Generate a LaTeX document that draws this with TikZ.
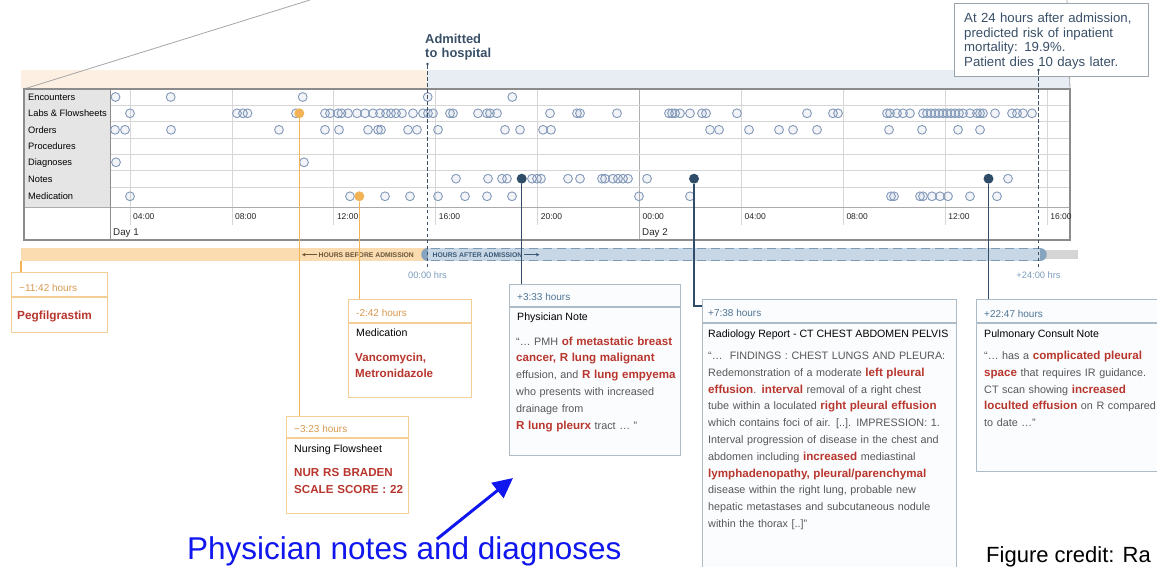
\documentclass[tikz,border=0pt]{standalone}
\usepackage{fontspec}
\setmainfont{Liberation Sans}
\usetikzlibrary{arrows.meta}

\definecolor{hlred}{HTML}{B8362E}
\definecolor{bodygray}{HTML}{585858}
\definecolor{darktxt}{HTML}{262626}
\definecolor{slate}{HTML}{3A5068}
\definecolor{notehdr}{HTML}{4F7596}
\definecolor{noteedge}{HTML}{AEBCC8}
\definecolor{notefill}{HTML}{FBFCFD}
\definecolor{orng}{HTML}{F2B356}
\definecolor{orngedge}{HTML}{F4CF95}
\definecolor{orngtxt}{HTML}{D7994F}
\definecolor{bandorng}{HTML}{FDF0E2}
\definecolor{bandblue}{HTML}{E8EDF3}
\definecolor{barorng}{HTML}{FADCB0}
\definecolor{barblue}{HTML}{C7D7E5}
\definecolor{bardash}{HTML}{7E9AB3}
\definecolor{barcap}{HTML}{87A4BF}
\definecolor{bargray}{HTML}{D5D5D5}
\definecolor{beforetxt}{HTML}{6A5538}
\definecolor{aftertxt}{HTML}{3D5A78}
\definecolor{evt}{HTML}{8298B9}
\definecolor{evtdark}{HTML}{2F4C68}
\definecolor{gridline}{HTML}{D6D6D6}
\definecolor{dayline}{HTML}{B0B0B0}
\definecolor{gridedge}{HTML}{8C8C8C}
\definecolor{labelbg}{HTML}{E5E5E5}
\definecolor{callblue}{HTML}{1016EE}
\definecolor{zerotxt}{HTML}{7C9CBE}
\definecolor{calloutedge}{HTML}{9AA4AD}

% highlighted keyword inside a note excerpt
\newcommand{\kw}[1]{{\fontsize{11.6}{14}\selectfont\bfseries\color{hlred}#1}}

\begin{document}
\begin{tikzpicture}[x=1pt,y=-1pt,
  evt/.style={circle,draw=evt,line width=0.9pt,fill=evt,fill opacity=0.10,minimum size=8.8pt,inner sep=0pt},
  evtkey/.style={circle,fill=evtdark,minimum size=10pt,inner sep=0pt},
  evtorng/.style={circle,fill=orng,minimum size=10pt,inner sep=0pt},
  rowlabel/.style={anchor=base west,inner sep=0pt,font=\fontsize{9.3}{11}\selectfont,text=black},
  hourlabel/.style={anchor=base west,inner sep=0pt,font=\fontsize{8.5}{10}\selectfont,text=darktxt},
  daylabel/.style={anchor=base west,inner sep=0pt,font=\fontsize{9.8}{12}\selectfont,text=darktxt},
  orngbox/.style={draw=orngedge,line width=1.2pt,fill=white,anchor=north west,inner sep=0pt},
  notebox/.style={draw=noteedge,line width=1.2pt,fill=notefill,anchor=north west,inner sep=0pt},
  stamp/.style={anchor=base west,inner sep=0pt,font=\fontsize{10}{12}\selectfont},
  orngstamp/.style={stamp,text=orngtxt},
  notestamp/.style={stamp,text=notehdr},
  boxtitle/.style={anchor=base west,inner sep=0pt,font=\fontsize{10.6}{13}\selectfont,text=black},
  notebody/.style={anchor=base west,inner sep=0pt,text width=300pt,align=left,font=\fontsize{10.8}{16.8}\selectfont,text=bodygray},
  keybody/.style={anchor=base west,inner sep=0pt,text width=200pt,align=left,font=\fontsize{11.6}{16.8}\selectfont\bfseries,text=hlred},
  orngline/.style={draw=orng,line width=1.6pt},
  noteline/.style={draw=evtdark,line width=1.4pt},
  admline/.style={draw=slate,line width=1pt,dash pattern=on 3.5pt off 2.5pt},
  zerolabel/.style={anchor=base,inner sep=0pt,font=\fontsize{9.3}{11}\selectfont,text=zerotxt},
]
\useasboundingbox (0,0) rectangle (1157,567);
\begin{scope}
\clip (0,0) rectangle (1157,567);

% ---------- top band and zoom lines ----------
\fill[bandorng] (21,70) rectangle (427,89);
\fill[bandblue] (427,70) rectangle (1070,89);
\draw[gray!70,line width=0.8pt] (24,89) -- (310,0);
\draw[gray!70,line width=0.8pt] (1067,0) -- (1070,89);

% ---------- event grid ----------
\fill[labelbg] (24,89) rectangle (110,207);
\foreach \x in {130,231.9,333.8,435.7,537.6,741.4,843.3,945.2,1047.1}
  \draw[gridline,line width=0.8pt] (\x,89) -- (\x,225);
\draw[dayline,line width=0.9pt] (639.5,89) -- (639.5,240);
\foreach \y in {105,121.7,138.3,154,170.3,187}
  \draw[gridline,line width=0.9pt] (110,\y) -- (1070,\y);
\draw[gridline!80!black,line width=0.9pt] (24,207) -- (1070,207);
\draw[gridedge,line width=0.9pt] (110,89) -- (110,240);
\draw[gridedge,line width=1.1pt] (24,89) rectangle (1070,240);

\node[rowlabel] (lEnc) at (28,100.5) {Encounters};
\node[rowlabel] (lLab) at (28,116.7) {Labs \& Flowsheets};
\node[rowlabel] (lOrd) at (28,133.2) {Orders};
\node[rowlabel] (lPro) at (28,149.2) {Procedures};
\node[rowlabel] (lDia) at (28,165.7) {Diagnoses};
\node[rowlabel] (lNot) at (28,182.1) {Notes};
\node[rowlabel] (lMed) at (28,200) {Medication};

\foreach \x/\t [count=\i] in {130/04:00,231.9/08:00,333.8/12:00,435.7/16:00,537.6/20:00,639.5/00:00,741.4/04:00,843.3/08:00,945.2/12:00,1047.1/16:00}
  \node[hourlabel] (hr\i) at (\x+3,219) {\t};
\node[daylabel] (day1) at (113,235.3) {Day 1};
\node[daylabel] (day2) at (642,235.3) {Day 2};

% events, one row per record type
\foreach \x [count=\i] in {115.5,170.7,302.7,427.7,512.3}
  \node[evt] (enc\i) at (\x,97) {};
\foreach \x [count=\i] in {130,237,243,247.5,296,325,330,338,341.5,348,357,365,373,380,386,391,396,402,413,423,428,433,450,453,478,487,490,497,550,577,580,617,669,672,675,680,690,702,706,737,807,833,838,887,890,897,903,910,923,927,931,935,939,943,947,951,955,959,963,970,977,980,983,995,1012,1017,1023,1032}
  \node[evt] (lab\i) at (\x,113.3) {};
\foreach \x [count=\i] in {115,125,171,279,325,339,368,378,381,408,417,438,505,520,543,551,710,719,749,779,793,817,889,922,958,980}
  \node[evt] (ord\i) at (\x,129.8) {};
\foreach \x [count=\i] in {116,304}
  \node[evt] (dia\i) at (\x,162.3) {};
\foreach \x [count=\i] in {456,488,502,507,532,537,541,568,580,602,605,613,618,623,628,647,1008}
  \node[evt] (not\i) at (\x,178.7) {};
\foreach \x [count=\i] in {130,350,385,410,438,465,487,512,639,690,891,894,920,923,932,940,948,970,997}
  \node[evt] (med\i) at (\x,196.3) {};

\node[evtorng] (labkey) at (299.3,113.3) {};
\node[evtorng] (medkey) at (359.3,196.3) {};
\node[evtkey] (notekeyA) at (521.7,178.7) {};
\node[evtkey] (notekeyB) at (694,178.7) {};
\node[evtkey] (notekeyC) at (988.5,178.7) {};

% ---------- hours bar ----------
\fill[barorng] (21,248) rectangle (427,261);
\fill[bargray] (1040,250) rectangle (1078,259);
\fill[barblue] (427,248) rectangle (1040,261);
\fill[barcap] (427.5,248) .. controls (418.8,248) and (418.8,261) .. (427.5,261) -- cycle;
\fill[barcap] (1040,248) .. controls (1048.7,248) and (1048.7,261) .. (1040,261) -- cycle;
\draw[bardash,line width=1.1pt,dash pattern=on 9pt off 5pt] (431,248.8) -- (1040,248.8);
\draw[bardash,line width=1.1pt,dash pattern=on 9pt off 5pt] (431,260.2) -- (1040,260.2);

\node[anchor=base west,inner sep=0pt,font=\fontsize{6.8}{8}\selectfont\bfseries,text=beforetxt] (beforetxt) at (318.5,257) {HOURS BEFORE ADMISSION};
\draw[beforetxt,line width=0.8pt,-{Stealth[length=3.5pt,width=3.5pt]}] (beforetxt.west) ++(-1.5,0) -- ++(-15,0);
\node[anchor=base west,inner sep=0pt,font=\fontsize{6.8}{8}\selectfont\bfseries,text=aftertxt] (aftertxt) at (432.5,257) {HOURS AFTER ADMISSION};
\draw[aftertxt,line width=0.8pt,-{Stealth[length=3.5pt,width=3.5pt]}] (aftertxt.east) ++(2,0) -- ++(15,0);

\node[zerolabel] (zeroA) at (427.5,278.5) {00:00 hrs};
\node[zerolabel] (zeroB) at (1038.5,278.5) {+24:00 hrs};

% ---------- admission marker and prediction callout ----------
\node[anchor=base west,inner sep=0pt,align=left,text width=90pt,font=\fontsize{12.9}{14}\selectfont\bfseries,text=slate] (admtxt) at (425,43.5) {Admitted\\to hospital};
\node[circle,fill=slate,minimum size=2.6pt,inner sep=0pt] (admdot) at (427.5,64) {};
\coordinate (admend) at (427.5,268);
\draw[admline] (admdot) -- (admend);

\node[draw=calloutedge,line width=1pt,fill=white,anchor=north west,inner sep=0pt,minimum width=194pt,minimum height=73pt] (callout) at (954,3) {};
\node[anchor=base west,inner sep=0pt,align=left,text width=190pt,font=\fontsize{13.2}{14.5}\selectfont,text=slate] (callouttxt) at (964,23) {At 24 hours after admission,\\predicted risk of inpatient\\mortality: 19.9\%.\\Patient dies 10 days later.};
\node[circle,fill=slate,minimum size=2.6pt,inner sep=0pt] (daydot) at (1038.5,70) {};
\coordinate (dayend) at (1038.5,268);
\draw[admline] (daydot) -- (dayend);

% ---------- pre-admission annotations ----------
\node[orngbox,minimum width=96pt,minimum height=60pt] (pegbox) at (11,272) {};
\draw[orngedge,line width=1.2pt] (11,297) -- (107,297);
\node[orngstamp] (pegstamp) at (19,291.5) {−11:42 hours};
\node[anchor=base west,inner sep=0pt,font=\fontsize{11.8}{14}\selectfont\bfseries,text=hlred] (pegname) at (17,319.5) {Pegfilgrastim};
\coordinate (pegtop) at (20.7,261);
\draw[orngline] (pegtop) -- (pegtop |- pegbox.north);

\node[orngbox,minimum width=123pt,minimum height=98pt] (medbox) at (348,299) {};
\draw[orngedge,line width=1.2pt] (348,323) -- (471,323);
\node[orngstamp] (medstamp) at (356,316.5) {-2:42 hours};
\node[boxtitle] (medtitle) at (356,336.5) {Medication};
\node[keybody] (medtxt) at (355,361) {Vancomycin,\\Metronidazole};
\draw[orngline] (medkey) -- (medkey |- medbox.north);

\node[orngbox,minimum width=122pt,minimum height=97pt] (nurbox) at (286,416) {};
\draw[orngedge,line width=1.2pt] (286,438) -- (408,438);
\node[orngstamp] (nurstamp) at (294,432) {−3:23 hours};
\node[boxtitle] (nurtitle) at (294,452.5) {Nursing Flowsheet};
\node[keybody] (nurtxt) at (294,476.6) {NUR RS BRADEN\\SCALE SCORE : 22};
\draw[orngline] (labkey) -- (labkey |- nurbox.north);

% ---------- post-admission notes ----------
\node[notebox,minimum width=171pt,minimum height=171pt] (phybox) at (509,284) {};
\draw[noteedge,line width=1.2pt] (509,307) -- (680,307);
\node[notestamp] (phystamp) at (517,300.5) {+3:33 hours};
\node[boxtitle] (phytitle) at (517,320) {Physician Note};
\node[notebody] (phytxt) at (516,345) {“… PMH \kw{of metastatic breast}\\
\kw{cancer, R lung malignant}\\
effusion, and \kw{R lung empyema}\\
who presents with increased\\
drainage from\\
\kw{R lung pleurx} tract … ”};
\draw[noteline] (notekeyA) -- (notekeyA |- phybox.north);

\node[notebox,minimum width=254pt,minimum height=290pt] (radbox) at (702,299) {};
\draw[noteedge,line width=1.2pt] (702,323) -- (956,323);
\node[notestamp] (radstamp) at (708,316.5) {+7:38 hours};
\node[boxtitle] (radtitle) at (708,337) {Radiology Report - CT CHEST ABDOMEN PELVIS};
\node[notebody] (radtxt) at (708,359.5) {“…\ \ FINDINGS : CHEST LUNGS AND PLEURA:\\
Redemonstration of a moderate \kw{left pleural}\\
\kw{effusion}. \kw{interval} removal of a right chest\\
tube within a loculated \kw{right pleural effusion}\\
which contains foci of air. [..]. IMPRESSION: 1.\\
Interval progression of disease in the chest and\\
abdomen including \kw{increased} mediastinal\\
\kw{lymphadenopathy, pleural/parenchymal}\\
disease within the right lung, probable new\\
hepatic metastases and subcutaneous nodule\\
within the thorax [..]”};
\coordinate (radjoin) at (702,306);
\draw[noteline] (notekeyB) |- (radjoin);

\node[notebox,minimum width=200pt,minimum height=172pt] (pulbox) at (976,299) {};
\draw[noteedge,line width=1.2pt] (976,323) -- (1176,323);
\node[notestamp] (pulstamp) at (984,317) {+22:47 hours};
\node[boxtitle] (pultitle) at (984,337) {Pulmonary Consult Note};
\node[notebody] (pultxt) at (984,359.5) {“… has a \kw{complicated pleural}\\
\kw{space} that requires IR guidance.\\
CT scan showing \kw{increased}\\
\kw{loculted effusion} on R compared\\
to date …”};
\draw[noteline] (notekeyC) -- (notekeyC |- pulbox.north);

% ---------- slide annotations ----------
\node[anchor=base west,inner sep=0pt,font=\fontsize{31.5}{36}\selectfont,text=callblue] (pointer) at (187,559.8) {Physician notes and diagnoses};
\coordinate (pointtail) at (437,539);
\coordinate (pointhead) at (513,478);
\draw[callblue,line width=3pt,-{Triangle[length=20pt,width=19pt]}] (pointtail) -- (pointhead);
\node[anchor=base west,inner sep=0pt,font=\fontsize{22}{26}\selectfont,text=black] (credit) at (986,562.5) {Figure credit: Ra};
\end{scope}
\end{tikzpicture}
\end{document}
